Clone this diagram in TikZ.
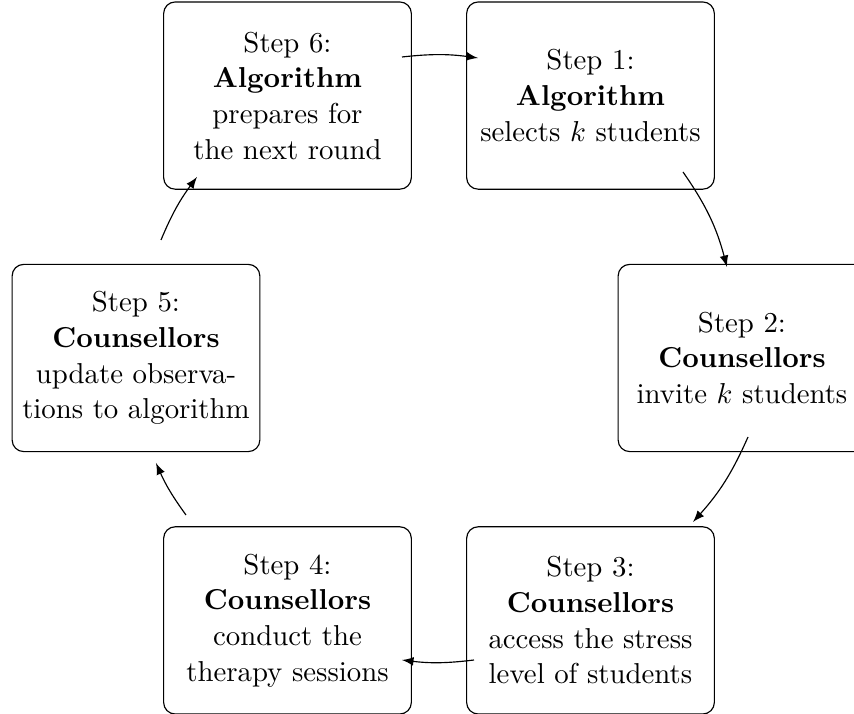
\documentclass[tikz,border=0pt]{standalone}
\usepackage{amsmath}
\usepackage{tikz}
\usetikzlibrary{calc}

\begin{document}
\begin{tikzpicture}[x=0.3472pt, y=0.3472pt,
    stepbox/.style={draw, rounded corners=4pt, minimum width=86pt,
        minimum height=65pt, inner sep=2pt, align=center,
        font=\fontsize{10}{12.4}\selectfont},
    cyc/.style={-latex}]
    \useasboundingbox (-439,-356) rectangle (415,358);
    \node[stepbox] (s6) at (120:303) {Step 6:\\ \textbf{Algorithm}\\ prepares for\\ the next round};
    \node[stepbox] (s1) at (60:303) {Step 1:\\ \textbf{Algorithm}\\ selects $k$ students};
    \node[stepbox] (s2) at (0:303) {Step 2:\\ \textbf{Counsellors}\\ invite $k$ students};
    \node[stepbox] (s3) at (-60:303) {Step 3:\\ \textbf{Counsellors}\\ access the stress\\ level of students};
    \node[stepbox] (s4) at (-120:303) {Step 4:\\ \textbf{Counsellors}\\ conduct the\\ therapy sessions};
    \node[stepbox] (s5) at (180:303) {Step 5:\\ \textbf{Counsellors}\\ update observa-\\ tions to algorithm};
    \draw[cyc] ($(s6.center)+(114.5,38.6)$) to[bend left=7] ($(s1.center)+(-112.5,37.6)$);
    \draw[cyc] ($(s1.center)+(92.5,-76.4)$) to[bend left=10] ($(s2.center)+(-15,91)$);
    \draw[cyc] ($(s2.center)+(6,-79)$) to[bend left=9] ($(s3.center)+(102.5,98.4)$);
    \draw[cyc] ($(s3.center)+(-116.5,-39.6)$) to[bend left=7] ($(s4.center)+(114.5,-39.6)$);
    \draw[cyc] ($(s4.center)+(-101.5,105.4)$) to[bend left=6] ($(s5.center)+(20,-105)$);
    \draw[cyc] ($(s5.center)+(25,118)$) to[bend left=7] ($(s6.center)+(-90.5,-81.4)$);
\end{tikzpicture}
\end{document}
